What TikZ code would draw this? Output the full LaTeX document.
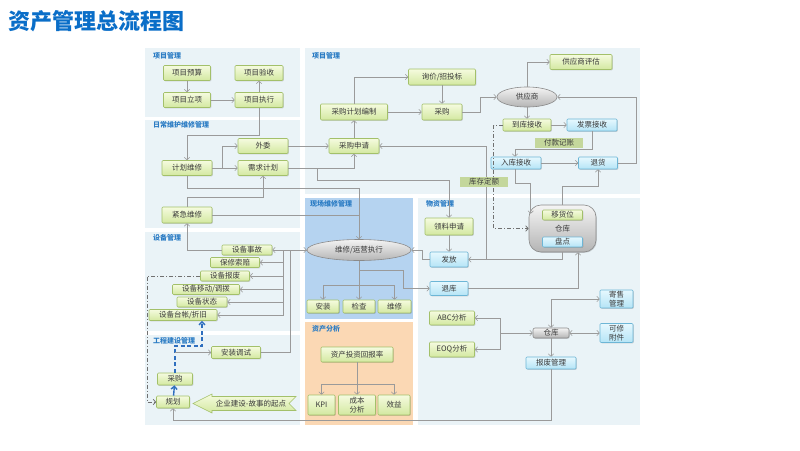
\documentclass[tikz,border=0pt]{standalone}
\usepackage{fontspec}
\setmainfont{Noto Sans CJK SC}
\usetikzlibrary{arrows.meta,shapes.geometric,shadows}
\definecolor{panelc}{HTML}{EAF3F7}
\definecolor{bluepanelc}{HTML}{B5D3F0}
\definecolor{orangec}{HTML}{FBD8B4}
\definecolor{titleblue}{HTML}{0A6EC8}
\definecolor{labblue}{HTML}{2B7CC4}
\definecolor{lineg}{HTML}{9A9A9A}
\definecolor{gtop}{HTML}{F5FBDF}
\definecolor{gbot}{HTML}{D3E8A0}
\definecolor{gdraw}{HTML}{A3C06A}
\definecolor{btop}{HTML}{E6F8FE}
\definecolor{bbot}{HTML}{B5E4F6}
\definecolor{bdraw}{HTML}{6DB6D6}
\definecolor{olivec}{HTML}{C4D79C}
\definecolor{greytop}{HTML}{F4F4F4}
\definecolor{greybot}{HTML}{B4B4B4}
\definecolor{greydraw}{HTML}{8A8A8A}
\definecolor{txt}{HTML}{3A3A3A}
\definecolor{dashblue}{HTML}{2F6FBF}
\definecolor{ddgrey}{HTML}{707070}
\tikzset{
  sz/.style 2 args={minimum width=#1pt, minimum height=#2pt},
  box/.style={rectangle, rounded corners=1pt, inner sep=0pt, font=\fontsize{7.5}{8.5}\selectfont, text=txt, align=center, line width=0.6pt,
    drop shadow={shadow xshift=0.8pt, shadow yshift=-0.8pt, fill=black, opacity=0.15}},
  gbox/.style={box, draw=gdraw, top color=gtop, bottom color=gbot},
  bbox/.style={box, draw=bdraw, top color=btop, bottom color=bbot},
  greybox/.style={box, draw=greydraw, top color=greytop, bottom color=greybot},
  olab/.style={rectangle, inner sep=0pt, font=\fontsize{7.5}{8.5}\selectfont, text=txt, fill=olivec},
  plab/.style={anchor=west, inner sep=0pt, font=\fontsize{7}{7}\selectfont\bfseries, text=labblue},
  conn/.style={draw=lineg, line width=0.6pt, -{Straight Barb[length=2.5pt,width=5.5pt]}},
  conntwo/.style={draw=lineg, line width=0.6pt, {Straight Barb[length=2.5pt,width=5.5pt]}-{Straight Barb[length=2.5pt,width=5.5pt]}},
  plainline/.style={draw=lineg, line width=0.6pt},
  ddconn/.style={draw=ddgrey, line width=0.8pt, dash pattern=on 4pt off 2pt on 1pt off 2pt, -{Straight Barb[length=2.5pt,width=5.5pt]}},
  bluedash/.style={draw=dashblue, line width=1.4pt, dash pattern=on 4pt off 2.5pt, -{Straight Barb[length=3pt,width=6pt]}},
  bluearrow/.style={draw=dashblue, line width=1.4pt, -{Straight Barb[length=3pt,width=6pt]}},
}
\begin{document}
\begin{tikzpicture}[x=1pt,y=-1pt]
\useasboundingbox (0,0) rectangle (800,450);
\fill[white] (0,0) rectangle (800,450);
% title
\node[anchor=west, inner sep=0pt, font=\fontsize{22}{22}\selectfont\bfseries, text=titleblue] (title) at (8,21) {资产管理总流程图};
% panels
\fill[panelc] (145,48) rectangle (300,117);
\fill[panelc] (145,120) rectangle (300,228);
\fill[panelc] (145,232) rectangle (300,331);
\fill[panelc] (145,335) rectangle (300,425);
\fill[panelc] (305,48) rectangle (640,194);
\fill[bluepanelc] (305,198) rectangle (413,319);
\fill[orangec] (305,322) rectangle (413,425);
\fill[panelc] (418,198) rectangle (640,425);
% panel labels
\node[plab] (p1) at (153,56) {项目管理};
\node[plab] (p2) at (153,125) {日常维护维修管理};
\node[plab] (p3) at (153,238) {设备管理};
\node[plab] (p4) at (153,341) {工程建设管理};
\node[plab] (p5) at (312,56) {项目管理};
\node[plab] (p6) at (310,204) {现场维修管理};
\node[plab] (p7) at (426,204) {物资管理};
\node[plab] (p8) at (312,329) {资产分析};
% left top
\node[gbox, sz={47}{15}] (xmys) at (187,73) {项目预算};
\node[gbox, sz={48}{15}] (xmyans) at (259,73) {项目验收};
\node[gbox, sz={47}{15}] (xmlx) at (187,100) {项目立项};
\node[gbox, sz={48}{15}] (xmzx) at (259,100) {项目执行};
% daily maintenance
\node[gbox, sz={50}{15}] (wwei) at (263,146) {外委};
\node[gbox, sz={50}{15}] (jhwx) at (187,168) {计划维修};
\node[gbox, sz={50}{15}] (xqjh) at (263,168) {需求计划};
\node[gbox, sz={50}{16}] (jjwx) at (187,215) {紧急维修};
% equipment
\node[gbox, sz={50}{10}] (sbsg) at (247,250) {设备事故};
\node[gbox, sz={49}{10}] (bxsp) at (235,262.5) {保修索赔};
\node[gbox, sz={49}{10}] (sbbf) at (225,276) {设备报废};
\node[gbox, sz={67}{10}] (sbyd) at (206,289.5) {设备移动/调拨};
\node[gbox, sz={50}{10}] (sbzt) at (202,302) {设备状态};
\node[gbox, sz={68}{11}] (sbtz) at (183,315) {设备台帐/折旧};
% engineering
\node[gbox, sz={49}{12}] (azts) at (236,352.5) {安装调试};
\node[gbox, sz={35}{12}] (cgtwo) at (175,379) {采购};
\node[gbox, sz={33}{12}] (gh) at (173,402) {规划};
\draw[line width=0.6pt, draw=gdraw, top color=gtop, bottom color=gbot]
  (193,403.5) -- (212,394) -- (212,396.5) -- (296,396.5) -- (289,403.5) -- (296,410.5) -- (212,410.5) -- (212,413) -- cycle;
\node[inner sep=0pt, font=\fontsize{7.5}{8}\selectfont, text=txt] (qyjs) at (251,403.5) {企业建设-故事的起点};
% top right
\node[gbox, sz={67}{16}] (xj) at (442,77) {询价/招投标};
\node[gbox, sz={67}{16}] (cgjh) at (354,112) {采购计划编制};
\node[gbox, sz={40}{16}] (cgr) at (442,112) {采购};
\node[gbox, sz={50}{15}] (cgsq) at (354,146) {采购申请};
\node[ellipse, draw=greydraw, line width=0.6pt, top color=greytop, bottom color=greybot, inner sep=0pt, sz={60}{20}, font=\fontsize{7.5}{8}\selectfont, text=txt] (gys) at (527,97) {供应商};
\node[gbox, sz={62}{15}] (gyspg) at (581,62) {供应商评估};
\node[gbox, sz={48}{12}] (dk) at (527,125) {到库接收};
\node[bbox, sz={50}{12}] (fp) at (592,125) {发票接收};
\node[bbox, sz={50}{12}] (rk) at (516,163) {入库接收};
\node[bbox, sz={39}{12}] (th) at (598,163) {退货};
\node[greybox, rounded corners=12pt, sz={67}{47}] (ck) at (562.5,228.5) {仓库};
\node[gbox, sz={40}{10}] (yhw) at (562.5,215) {移货位};
\node[bbox, sz={40}{10}] (pd) at (562.5,242) {盘点};
% field maintenance
\node[ellipse, draw=greydraw, line width=0.6pt, top color=greytop, bottom color=greybot, inner sep=0pt, sz={104}{21}, font=\fontsize{7.5}{8}\selectfont, text=txt] (wxyy) at (359,250) {维修/运营执行};
\node[gbox, sz={32}{13}] (az) at (323,306.5) {安装};
\node[gbox, sz={32}{13}] (jc) at (359,306.5) {检查};
\node[gbox, sz={33}{13}] (wx) at (394.5,306.5) {维修};
% materials
\node[gbox, sz={48}{17}] (llsq) at (449,226.5) {领料申请};
\node[bbox, sz={38}{15}] (ff) at (449,259.5) {发放};
\node[bbox, sz={38}{14}] (tk) at (449,288.5) {退库};
\node[gbox, sz={45}{14}] (abc) at (452,318) {ABC分析};
\node[gbox, sz={45}{15}] (eoq) at (452,349.5) {EOQ分析};
\node[greybox, rounded corners=2pt, sz={36}{10}] (cktwo) at (551,333) {仓库};
\node[bbox, sz={33}{18}] (jsgl) at (616.5,299) {寄售\\管理};
\node[bbox, sz={33}{19}] (kxfj) at (616.5,333) {可修\\附件};
\node[bbox, sz={50}{12}] (bfgl) at (551,363) {报废管理};
% asset analysis
\node[gbox, sz={72}{15}] (zctz) at (357,354.5) {资产投资回报率};
\node[gbox, sz={27}{20}] (kpi) at (321.5,405) {KPI};
\node[gbox, sz={37}{20}] (cbfx) at (357,405) {成本\\分析};
\node[gbox, sz={32}{20}] (xy) at (394,405) {效益};
% ---------------- connectors
\draw[conn] (xmys) -- (xmlx);
\draw[conn] (xmlx) -- (xmzx);
\draw[conn] (xmzx) -- (xmyans);
\draw[conn] (xmzx.south) -- ++(0,27) -| (jhwx.north);
\draw[conn] (jhwx.east) -- ++(10,0) |- (wwei.west);
\draw[conn] (jhwx) -- (xqjh);
\draw[conn] (wwei) -- (cgsq);
\draw[conn] (xqjh.east) -| (cgsq.south);
\coordinate (ja) at (317,168);
\draw[conn] (ja) -- (317,180) -| (llsq.north);
\draw[conn] (jhwx.south) -- ++(0,12) -| (wxyy.north);
\draw[conn] (jjwx.north) -- ++(0,-9) -| (xqjh.south);
\draw[plainline] (jjwx.east) -- (wxyy.north |- jjwx.east);
% procurement
\draw[conn] (cgsq) -- (cgjh);
\draw[conn] (cgjh) -- (cgr);
\draw[conn] (cgjh.north) |- (xj.west);
\draw[conn] (xj) -- (cgr);
\draw[conn] (cgr.east) -- ++(18,0) |- (gys.west);
\draw[conn] (gys.north) |- (gyspg.west);
\draw[conn] (gys) -- (dk);
\draw[conn] (dk) -- (fp);
\draw[conn] (fp.south) -- ++(0,18) -| ([xshift=-1pt]rk.north);
\draw[conn] (rk) -- (th);
\draw[conn] (th.east) -- ++(18,0) |- (gys.east);
\draw[conn] ([xshift=-1pt]rk.south) -- ++(0,14) -| ([xshift=2pt,yshift=-9pt]ck.north west);
\draw[conn] (ck.north) -- ++(0,-18) -| (th.south);
\draw[conn] (ck.south) |- (ff.east);
\coordinate (jb) at (486,259.5);
\draw[conn] (jb) |- (cgsq.east);
\draw[ddconn] (dk.west) -- ++(-9,0) |- (ck.west);
% field
\draw[conn] (llsq) -- (ff);
\draw[conn] (ff.west) -- ++(-7,0) |- (wxyy.east);
\draw[conn] (wxyy.south) -- (jc.north);
\coordinate (sa) at (359,285);
\draw[conn] (sa) -| (az.north);
\draw[conn] (sa) -| (wx.north);
\coordinate (sb) at (359,270);
\draw[conn] (sb) -- (403,270) |- (tk.west);
\draw[conn] (tk.east) -| ([xshift=15.5pt]ck.south);
% equipment
\draw[conn] (wxyy.west) -- (sbsg.east);
\coordinate (bus) at (283,250);
\draw[conn] (bus) |- (bxsp.east);
\draw[conn] (bus) |- (sbbf.east);
\draw[conn] (bus) |- (sbyd.east);
\draw[conn] (bus) |- (sbzt.east);
\draw[conn] (bus) |- (sbtz.east);
\draw[conn] (azts.east) -| (290,250) -- (wxyy.west);
\draw[conn] (sbsg.west) -| (jjwx.south);
\draw[ddconn] (sbbf.west) -- (147,276) |- (gh.west);
\draw[bluedash] (cgtwo.north) |- (202,346) -- ([xshift=19pt]sbtz.south);
\coordinate (jc3) at (175,352.5);
\draw[conn] (jc3) -- (azts.west);
\draw[bluearrow] (gh) -- (cgtwo);
\draw[conn] (bfgl.south) -- ++(0,51) -| (gh.south);
% asset analysis
\draw[conn] (zctz.south) -- (cbfx.north);
\coordinate (sc) at (357,384);
\draw[conn] (sc) -| (kpi.north);
\draw[conn] (sc) -| (xy.north);
% small warehouse
\coordinate (sd) at (500,333);
\draw[conn] (sd) -- (cktwo.west);
\draw[conn] (sd) |- (abc.east);
\draw[conn] (sd) |- (eoq.east);
\draw[conntwo] (cktwo.north) |- (jsgl.west);
\draw[conntwo] (cktwo) -- (kxfj);
\draw[conn] (cktwo) -- (bfgl);
% labels over lines
\node[olab, sz={48}{10}] (fkjz) at (559,143) {付款记账};
\node[olab, sz={48}{10}] (kcde) at (484,182) {库存定额};
\end{tikzpicture}
\end{document}
